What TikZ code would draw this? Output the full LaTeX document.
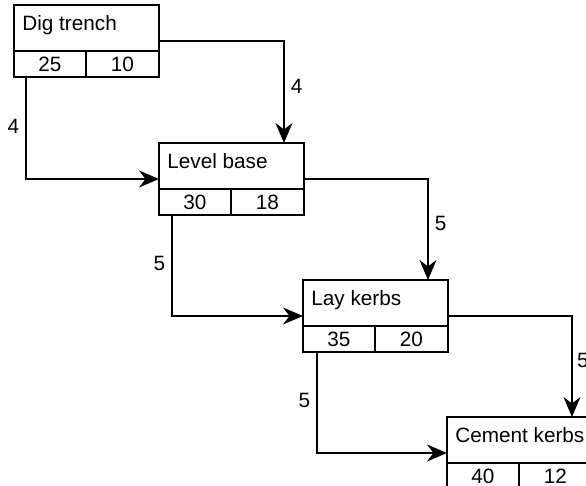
\documentclass[tikz,border=0pt]{standalone}
\usepackage{fontspec}
\setmainfont{Liberation Sans}
\usetikzlibrary{arrows.meta, calc}
\tikzset{
  box/.style  = {draw=black, line width=1.1pt, minimum width=2.9cm, minimum height=1.44cm,
                 inner sep=0pt, outer sep=0pt, anchor=north west},
  ttl/.style  = {font=\fontsize{11.8}{14}\selectfont, anchor=north west,
                 inner xsep=0.16cm, inner ysep=0.2cm},
  cell/.style = {draw=black, line width=1.1pt, minimum height=0.52cm, inner sep=0pt,
                 outer sep=0pt, font=\fontsize{11.8}{14}\selectfont},
  sig/.style  = {-{Stealth[length=0.4cm, width=0.34cm, inset=0.13cm]}, line width=0.9pt},
  lab/.style  = {font=\fontsize{11.8}{14}\selectfont, inner sep=3.5pt},
}

\begin{document}
\begin{tikzpicture}[x=0.02cm, y=-0.02cm]
  \useasboundingbox (0,0) rectangle (586,486);
  \clip (0,0) rectangle (586,486);

  \foreach \n/\x/\y/\t/\a/\b in {dig/14/5/Dig trench/25/10, lev/159/143/Level base/30/18,
                                 lay/303/280/Lay kerbs/35/20, cem/447/417/Cement kerbs/40/12}{
    \node[box] (\n) at (\x,\y) {};
    \node[ttl] (\n-t) at (\n.north west) {\t};
    \node[cell, minimum width=1.44cm, anchor=south west] (\n-es) at (\n.south west) {\a};
    \node[cell, minimum width=1.46cm, anchor=south east] (\n-ls) at (\n.south east) {\b};
  }

  \draw[sig] (dig.east) -| node[lab, pos=0.72, right] {4} ([xshift=-0.4cm]lev.north east);
  \draw[sig] ([xshift=0.24cm]dig.south west) |- node[lab, pos=0.24, left] {4} (lev.west);
  \draw[sig] (lev.east) -| node[lab, pos=0.72, right] {5} ([xshift=-0.4cm]lay.north east);
  \draw[sig] ([xshift=0.26cm]lev.south west) |- node[lab, pos=0.24, left] {5} (lay.west);
  \draw[sig] (lay.east) -| node[lab, pos=0.72, right, inner sep=2.5pt] {5} ([xshift=-0.4cm]cem.north east);
  \draw[sig] ([xshift=0.28cm]lay.south west) |- node[lab, pos=0.24, left] {5} (cem.west);
\end{tikzpicture}
\end{document}
